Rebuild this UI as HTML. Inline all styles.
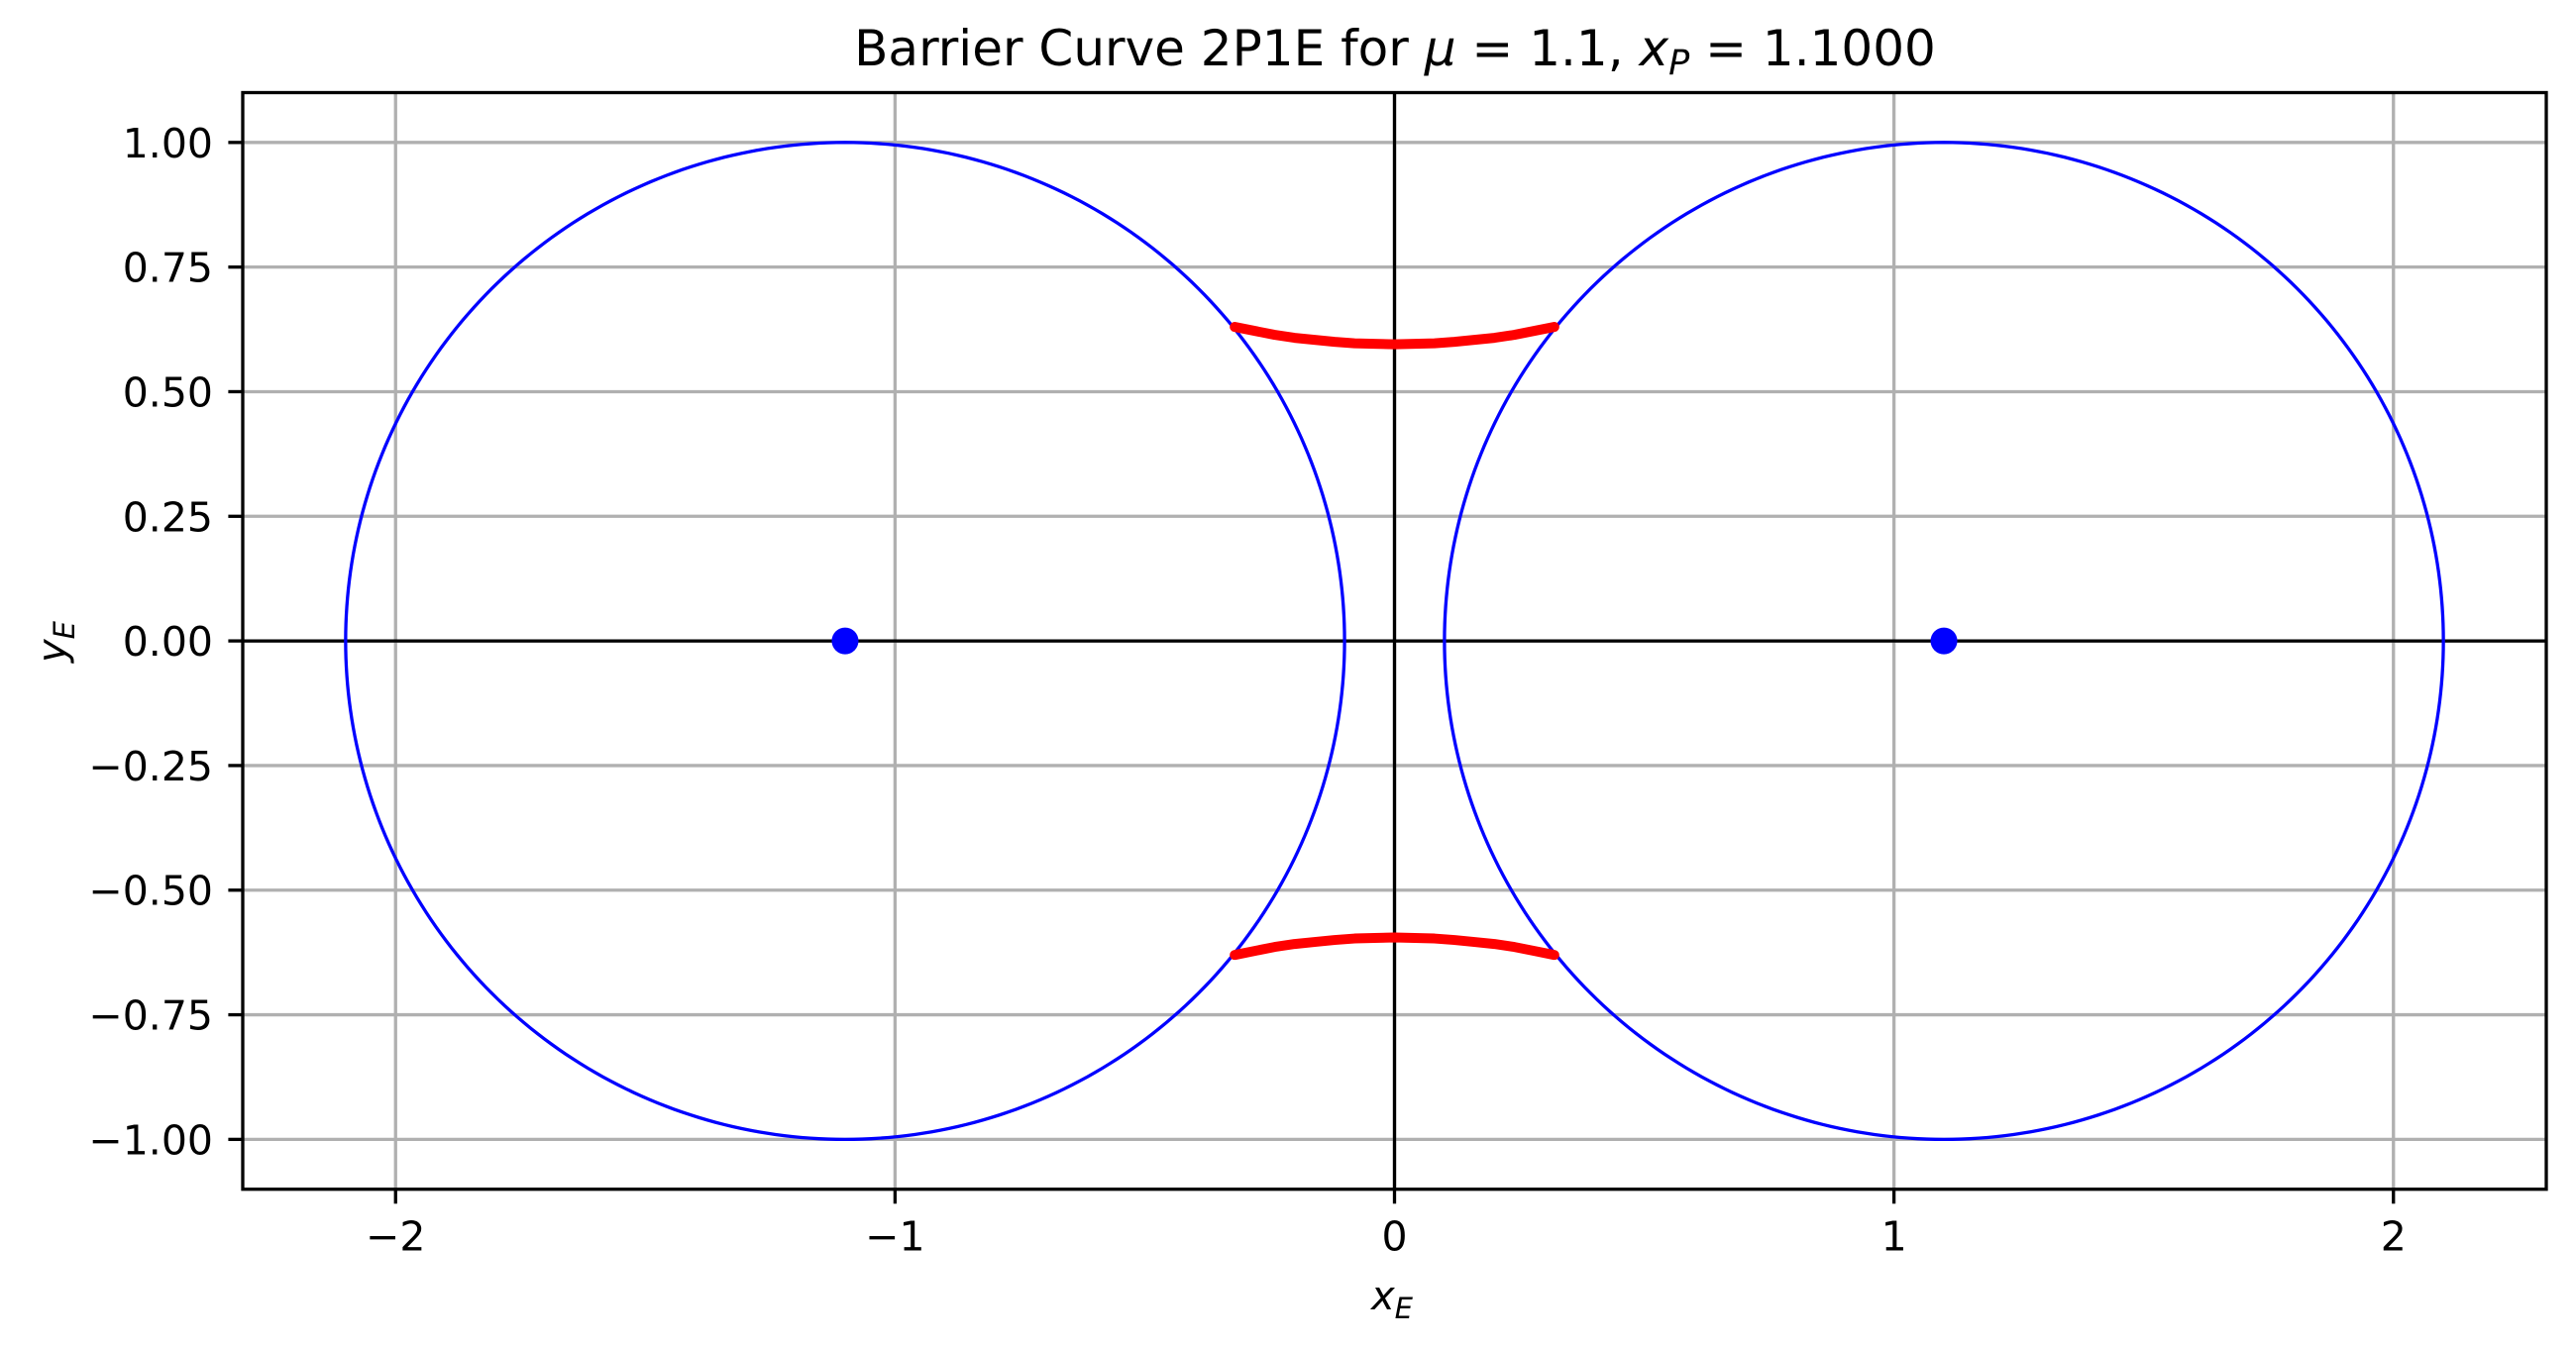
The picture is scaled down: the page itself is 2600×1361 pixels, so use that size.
<!DOCTYPE html>
<html><head><meta charset="utf-8"><style>
html,body{margin:0;padding:0;background:#fff;}
svg{display:block;font-family:"DejaVu Sans","Liberation Sans",sans-serif;}
</style></head><body>
<svg id="chart" width="2600" height="1361" viewBox="0 0 2600 1361" xmlns="http://www.w3.org/2000/svg">
<rect width="2600" height="1361" fill="#fff"/>
<g id="grid"></g>
<g id="plot"></g>
<g id="axes"></g>
<text x="1408" y="66" font-size="50" text-anchor="middle">Barrier Curve 2P1E for <tspan font-style="italic">μ</tspan> = 1.1, <tspan font-style="italic">x</tspan><tspan font-style="italic" font-size="35" dy="9">P</tspan><tspan dy="-9"> = 1.1000</tspan></text>
<text x="1405" y="1322" font-size="40" text-anchor="middle"><tspan font-style="italic">x</tspan><tspan font-style="italic" font-size="29" dy="9">E</tspan></text>
<text transform="translate(66,648) rotate(-90)" font-size="40" text-anchor="middle"><tspan font-style="italic">y</tspan><tspan font-style="italic" font-size="29" dy="9">E</tspan></text>
</svg>
<script>
const xTicks = [-2, -1, 0, 1, 2];
const xTickLabels = ["−2", "−1", "0", "1", "2"];
const yTicks = [-1, -0.75, -0.5, -0.25, 0, 0.25, 0.5, 0.75, 1];
const yTickLabels = ["−1.00", "−0.75", "−0.50", "−0.25", "0.00", "0.25", "0.50", "0.75", "1.00"];
const primaryX = [-1.1, 1.1];
const primaryY = [0, 0];
const circleRadius = [1, 1];
const barrierX = [-0.32, -0.28, -0.24, -0.20, -0.16, -0.12, -0.08, -0.04, 0, 0.04, 0.08, 0.12, 0.16, 0.20, 0.24, 0.28, 0.32];
const barrierYTop = [0.630, 0.622, 0.614, 0.608, 0.604, 0.600, 0.597, 0.596, 0.595, 0.596, 0.597, 0.600, 0.604, 0.608, 0.614, 0.622, 0.630];
const barrierYBottom = [-0.630, -0.622, -0.614, -0.608, -0.604, -0.600, -0.597, -0.596, -0.595, -0.596, -0.597, -0.600, -0.604, -0.608, -0.614, -0.622, -0.630];

const L = 245, R = 2570, T = 93.5, B = 1200.7;
const xMin = -2.306, xMax = 2.306, yMin = -1.1, yMax = 1.1;
const sx = v => L + (v - xMin) / (xMax - xMin) * (R - L);
const sy = v => B - (v - yMin) / (yMax - yMin) * (B - T);
const NS = "http://www.w3.org/2000/svg";
function mk(tag, parent, attrs) {
  const e = document.createElementNS(NS, tag);
  for (const k in attrs) e.setAttribute(k, attrs[k]);
  parent.appendChild(e);
  return e;
}
const grid = document.getElementById('grid');
const plot = document.getElementById('plot');
const axes = document.getElementById('axes');

xTicks.forEach((v, i) => {
  const g = mk('line', grid, {x1: sx(v), x2: sx(v), y1: T, y2: B, stroke: '#b0b0b0', 'stroke-width': 3.3});
  
  
  const t = mk('line', axes, {x1: sx(v), x2: sx(v), y1: B, y2: B + 14.6, stroke: '#000', 'stroke-width': 3.3});
  
  
  const lb = mk('text', axes, {x: sx(v), y: B + 62, 'font-size': 41, 'text-anchor': 'middle'});
  lb.textContent = xTickLabels[i];
  
  
});
yTicks.forEach((v, i) => {
  const g = mk('line', grid, {x1: L, x2: R, y1: sy(v), y2: sy(v), stroke: '#b0b0b0', 'stroke-width': 3.3});
  
  
  const t = mk('line', axes, {x1: L - 14.6, x2: L, y1: sy(v), y2: sy(v), stroke: '#000', 'stroke-width': 3.3});
  
  
  const lb = mk('text', axes, {x: L - 30, y: sy(v) + 15, 'font-size': 41, 'text-anchor': 'end'});
  lb.textContent = yTickLabels[i];
  
  
});

const h0 = mk('line', plot, {x1: L, x2: R, y1: sy(0), y2: sy(0), stroke: '#000', 'stroke-width': 3.3});


const v0 = mk('line', plot, {x1: sx(0), x2: sx(0), y1: T, y2: B, stroke: '#000', 'stroke-width': 3.3});



primaryX.forEach((cx, i) => {
  const pts = [];
  for (let k = 0; k <= 360; k++) {
    const a = k * Math.PI / 180;
    pts.push(sx(cx + circleRadius[i] * Math.cos(a)) + ',' + sy(primaryY[i] + circleRadius[i] * Math.sin(a)));
  }
  const c = mk('polyline', plot, {points: pts.join(' '), fill: 'none', stroke: '#0000ff', 'stroke-width': 3.3});
  
  
});
[barrierYTop, barrierYBottom].forEach((ys, j) => {
  const d = barrierX.map((x, i) => sx(x) + ',' + sy(ys[i])).join(' ');
  const p = mk('polyline', plot, {points: d, fill: 'none', stroke: '#ff0000', 'stroke-width': 10, 'stroke-linecap': 'round', 'stroke-linejoin': 'round'});
  
  
});
primaryX.forEach((cx, i) => {
  const m = mk('circle', plot, {cx: sx(cx), cy: sy(primaryY[i]), r: 13.5, fill: '#0000ff'});
  
  
});
const frame = mk('rect', axes, {x: L, y: T, width: R - L, height: B - T, fill: 'none', stroke: '#000', 'stroke-width': 3.3});


</script>
</body></html>
